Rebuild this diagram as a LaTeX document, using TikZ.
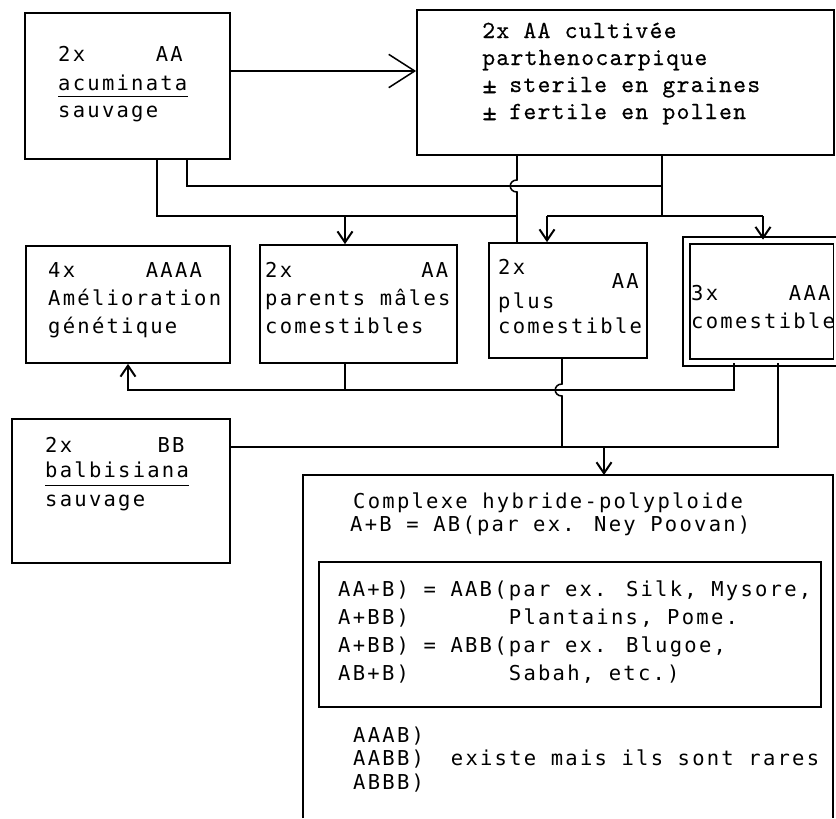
\documentclass[tikz,border=0pt]{standalone}
\usepackage{fontspec}
\usetikzlibrary{arrows.meta,fit}
\newfontfamily\gothic[LetterSpace=11]{DejaVu Sans Mono}
\newfontfamily\pica[LetterSpace=5,FakeBold=0.4]{lmmono10-regular.otf}
\newcommand\gothicfont{\gothic\fontsize{17.5}{21}\selectfont}
\newcommand\picafont{\pica\fontsize{21}{25}\selectfont}
\newcommand\pmsign{\makebox[0pt][l]{\smash{\raisebox{-0.05em}{\scalebox{1.15}{±}}}}\hphantom{0}}

\tikzset{
  box/.style={draw, line width=1.5pt, inner sep=0pt},
  txt/.style={anchor=base west, inner sep=0pt, font=\gothicfont},
  ptxt/.style={anchor=base west, inner sep=0pt, font=\picafont},
  link/.style={line width=1.3pt},
  uline/.style={line width=1pt},
  arr/.style={link, -{Straight Barb[length=3.3mm,width=4.5mm,line width=1.7pt]}},
  bigarr/.style={link, -{Straight Barb[length=7.8mm,width=10mm]}},
}

\begin{document}
\begin{tikzpicture}[x=0.3mm,y=-0.3mm]
\useasboundingbox (0,0) rectangle (836,818);

% boxes
\node[box, fit={(25,13) (230,159)}] (acum) {};
\node[box, fit={(417,10) (834,155)}] (cult) {};
\node[box, fit={(26,246) (230,363)}] (ame) {};
\node[box, fit={(260,245) (457,363)}] (par) {};
\node[box, fit={(489,243) (647,358)}] (plus) {};
\node[box, double, double distance=1.6mm, fit={(686.5,240.5) (837,362.5)}] (tri) {};
\node[box, fit={(12,419) (230,563)}] (balb) {};
\coordinate (hyb-nw) at (303,475);
\coordinate (hyb-ne) at (833,475);
\draw[box] (hyb-nw |- 0,818) -- (hyb-nw) -- (hyb-ne) -- (hyb-ne |- 0,818);
\node[box, fit={(319,562) (821,707)}] (mix) {};

% texts
\node[txt] (acum1) at (58,61) {2x\hphantom{00000}AA};
\node[txt] (acum2) at (58,90) {acuminata};
\node[txt] (acum3) at (58,117) {sauvage};
\draw[uline] ([yshift=-2mm]acum2.base west) -- ([yshift=-2mm]acum2.base east);

\node[ptxt] (cult1) at (482,38) {2x AA cultivée};
\node[ptxt] (cult2) at (482,65) {parthenocarpique};
\node[ptxt] (cult3) at (482,92) {\pmsign\ sterile en graines};
\node[ptxt] (cult4) at (482,119) {\pmsign\ fertile en pollen};

\node[txt] (ame1) at (48,277) {4x\hphantom{00000}AAAA};
\node[txt] (ame2) at (48,305) {Amélioration};
\node[txt] (ame3) at (48,333) {génétique};

\node[txt] (par1) at (265,277) {2x\hphantom{000000000}AA};
\node[txt] (par2) at (265,305) {parents mâles};
\node[txt] (par3) at (265,333) {comestibles};

\node[txt] (plus1) at (498,274) {2x};
\node[txt, anchor=base east] (plus2) at (639,288) {AA};
\node[txt] (plus3) at (498,308) {plus};
\node[txt] (plus4) at (498,333) {comestible};

\node[txt] (tri1) at (691,300) {3x\hphantom{00000}AAA};
\node[txt] (tri2) at (691,328) {comestible};

\node[txt] (balb1) at (45,452) {2x\hphantom{000000}BB};
\node[txt] (balb2) at (45,477) {balbisiana};
\node[txt] (balb3) at (45,506) {sauvage};
\draw[uline] ([yshift=-2.5mm]balb2.base west) -- ([yshift=-2.5mm]balb2.base east);

\node[txt] (hyb1) at (353,508) {Complexe hybride-polyploide};
\node[txt] (hyb2) at (350,531) {A+B = AB(par ex. Ney Poovan)};
\node[txt] (mix1) at (338,596) {AA+B) = AAB(par ex. Silk, Mysore,};
\node[txt] (mix2) at (338,624) {A+BB)\hphantom{0000000}Plantains, Pome.};
\node[txt] (mix3) at (338,652) {A+BB) = ABB(par ex. Blugoe,};
\node[txt] (mix4) at (338,680) {AB+B)\hphantom{0000000}Sabah, etc.)};
\node[txt] (rare1) at (353,742) {AAAB)};
\node[txt] (rare2) at (353,765) {AABB)\hphantom{00}existe mais ils sont rares};
\node[txt] (rare3) at (353,789) {ABBB)};

% connectors
\draw[bigarr] (acum.east |- 0,71) -- (cult.west |- 0,71);
\draw[link] (acum.south -| 187,0) |- (662,186);
\draw[link] (cult.south -| 662,0) -- (662,216);
\draw[link] (acum.south -| 157,0) |- (517,216);
\draw[link] (cult.south -| 517,0) -- (517,180) .. controls (508,180) and (508,192) .. (517,192) -- (517,0 |- plus.north);
\draw[arr] (345,216) -- (345,0 |- par.north);
\draw[link] (547,216) -- (763,216);
\draw[arr] (547,216) -- (547,0 |- plus.north);
\draw[arr] (763,216) -- (763,0 |- tri.north);

\draw[link] (par.south -| 345,0) -- (345,390);
\draw[arr] (tri.south -| 734,0) |- (128,390) -- (128,0 |- ame.south);
\draw[link] (plus.south -| 562,0) -- (562,384) .. controls (553,384) and (553,396) .. (562,396) -- (562,447);
\draw[link] (tri.south -| 778,0) |- (balb.east |- 0,447);
\draw[arr] (604,447) -- (604,0 |- hyb-nw);
\end{tikzpicture}
\end{document}
